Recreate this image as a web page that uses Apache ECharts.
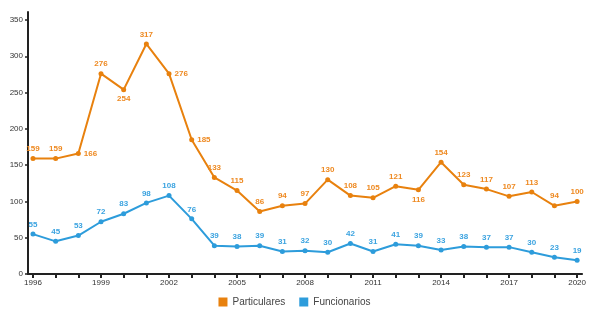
<!DOCTYPE html>
<html>
<head>
<meta charset="utf-8">
<script src="https://cdn.jsdelivr.net/npm/echarts@6/dist/echarts.min.js"></script>
<style>
  html, body { margin: 0; padding: 0; background: #fff; }
  #chart { width: 589px; height: 312px; }
</style>
</head>
<body>
<div id="chart"></div>
<script>
var years = [1996,1997,1998,1999,2000,2001,2002,2003,2004,2005,2006,2007,2008,2009,2010,2011,2012,2013,2014,2015,2016,2017,2018,2019,2020];
var particulares = [159,159,166,276,254,317,276,185,133,115,86,94,97,130,108,105,121,116,154,123,117,107,113,94,100];
var funcionarios = [55,45,53,72,83,98,108,76,39,38,39,31,32,30,42,31,41,39,33,38,37,37,30,23,19];
var yearLabels = [1996,1999,2002,2005,2008,2011,2014,2017,2020];

// label positions that differ from 'top'
var partPos = { 2: 'right', 4: 'bottom', 6: 'right', 7: 'right', 17: 'bottom' };

var orange = '#E8810E';
var blue = '#2D9CDB';

var myChart = echarts.init(document.getElementById('chart'));

function pairs(vals, posMap) {
    return vals.map(function (v, i) {
        var item = { value: [years[i], v] };
        if (posMap && posMap[i]) {
            item.label = { position: posMap[i] };
        }
        return item;
    });
}

var option = {
    animation: false,
    textStyle: { fontFamily: 'Liberation Sans, Arial, sans-serif' },
    grid: { left: 28, right: 4, top: 12, bottom: 38 },
    legend: {
        bottom: 0,
        left: 'center',
        itemWidth: 9,
        itemHeight: 9,
        itemGap: 14,
        icon: 'rect',
        textStyle: { fontSize: 10, color: '#444' },
        data: ['Particulares', 'Funcionarios']
    },
    xAxis: {
        type: 'value',
        min: 1995.78,
        max: 2020.22,
        splitLine: { show: false },
        axisLine: { lineStyle: { color: '#222', width: 2 } },
        axisTick: {
            customValues: years,
            length: 4,
            lineStyle: { color: '#222', width: 2 }
        },
        axisLabel: {
            customValues: yearLabels,
            fontSize: 8,
            color: '#333',
            margin: 5,
            formatter: function (v) { return String(Math.round(v)); }
        }
    },
    yAxis: {
        type: 'value',
        min: 0,
        max: 361,
        interval: 50,
        splitLine: { show: false },
        axisLine: { show: true, lineStyle: { color: '#222', width: 2 } },
        axisTick: { show: true, length: 3, lineStyle: { color: '#222', width: 1.5 } },
        axisLabel: {
            fontSize: 8,
            color: '#333',
            margin: 5,
            showMaxLabel: false
        }
    },
    series: [
        {
            name: 'Particulares',
            type: 'line',
            data: pairs(particulares, partPos),
            color: orange,
            symbol: 'circle',
            symbolSize: 5,
            lineStyle: { width: 2 },
            label: {
                show: true,
                position: 'top',
                distance: 3,
                fontSize: 8,
                fontWeight: 'bold',
                color: '#EE8A22',
                formatter: function (p) { return p.value[1]; }
            }
        },
        {
            name: 'Funcionarios',
            type: 'line',
            data: pairs(funcionarios),
            color: blue,
            symbol: 'circle',
            symbolSize: 5,
            lineStyle: { width: 2 },
            label: {
                show: true,
                position: 'top',
                distance: 3,
                fontSize: 8,
                fontWeight: 'bold',
                color: '#3BA3E0',
                formatter: function (p) { return p.value[1]; }
            }
        }
    ]
};
myChart.setOption(option);
</script>
</body>
</html>
